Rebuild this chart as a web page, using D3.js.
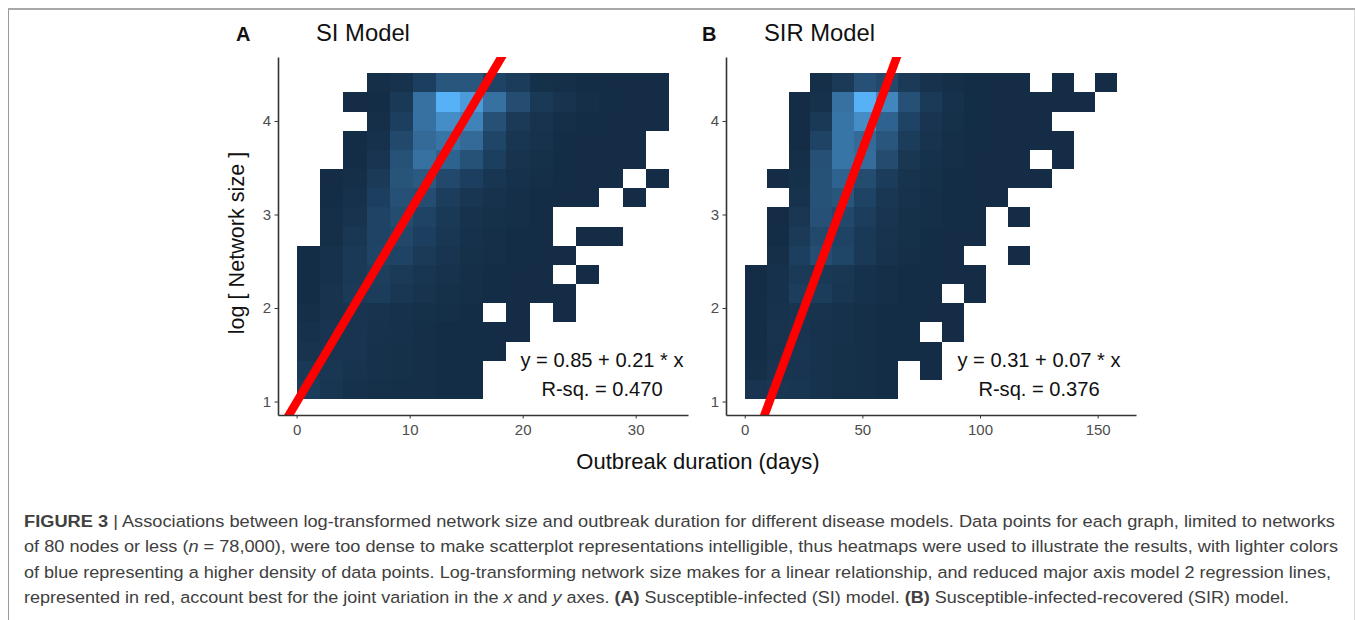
<!DOCTYPE html>
<html>
<head>
<meta charset="utf-8">
<script src="https://cdn.jsdelivr.net/npm/d3@7"></script>
<style>
    html, body { margin: 0; padding: 0; background: #fff; }
    svg { display: block; font-family: "Liberation Sans", Arial, sans-serif; }
</style>
</head>
<body>
<div id="d3-container"></div>
<script>
// heatmap density, 0-100. first row is the top row of the panel, _ = empty bin
var _ = null;
var siDensity = [
    [_, _, _, 3, 6, 17, 35, 35, 20, 14, 4, 3, 2, 1, 1, 1],
    [_, _, 1, 2, 12, 55, 100, 85, 55, 28, 12, 7, 3, 2, 1, 1],
    [_, _, _, 3, 17, 55, 75, 68, 30, 13, 7, 3, 2, 1, 1, 1],
    [_, _, 2, 5, 25, 50, 58, 50, 22, 9, 6, 2, 1, 1, 1, _],
    [_, _, 2, 8, 32, 55, 45, 32, 17, 7, 4, 2, 1, 1, 1, _],
    [_, 1, 3, 13, 33, 37, 25, 17, 9, 5, 3, 2, 1, 1, _, 1],
    [_, 2, 5, 17, 30, 28, 15, 9, 6, 3, 2, 1, 1, _, 1, _],
    [_, 3, 7, 20, 27, 20, 12, 6, 4, 3, 1, _, _, _, _, _],
    [_, 3, 10, 20, 23, 17, 10, 5, 3, 2, 1, _, 1, 1, _, _],
    [2, 5, 12, 21, 20, 13, 8, 4, 3, 2, 1, 1, _, _, _, _],
    [2, 5, 12, 16, 13, 9, 6, 3, 2, 1, 1, _, 1, _, _, _],
    [2, 7, 13, 14, 10, 7, 4, 3, 2, 1, 1, 1, _, _, _, _],
    [3, 7, 8, 7, 5, 4, 3, 2, _, 1, _, 1, _, _, _, _],
    [5, 8, 8, 6, 5, 3, 2, 2, 1, 1, _, _, _, _, _, _],
    [7, 8, 8, 5, 4, 3, 2, 2, 1, _, _, _, _, _, _, _],
    [12, 10, 7, 5, 4, 3, 2, 2, _, _, _, _, _, _, _, _],
    [14, 9, 5, 4, 3, 3, 2, 2, _, _, _, _, _, _, _, _]
];
var sirDensity = [
    [_, _, _, 3, 13, 30, 25, 13, 6, 3, 2, 1, 1, _, 1, _, 1],
    [_, _, 1, 5, 55, 100, 70, 30, 13, 5, 2, 1, 1, 1, 1, 1, _],
    [_, _, 1, 12, 58, 75, 45, 20, 8, 4, 2, 1, 1, 1, _, _, _],
    [_, _, 1, 20, 58, 50, 35, 14, 7, 3, 2, 1, 1, 1, 1, _, _],
    [_, _, 3, 30, 58, 52, 27, 10, 5, 3, 1, 1, 1, _, 1, _, _],
    [_, 1, 4, 32, 45, 27, 14, 7, 4, 2, 1, 1, 1, 1, _, _, _],
    [_, _, 6, 32, 35, 20, 10, 6, 3, 2, 1, 1, _, _, _, _, _],
    [_, 1, 10, 30, 25, 15, 8, 4, 3, 2, 1, _, 1, _, _, _, _],
    [_, 2, 13, 25, 20, 12, 7, 4, 2, 1, 1, _, _, _, _, _, _],
    [_, 3, 17, 28, 22, 12, 6, 3, 2, 1, _, _, 1, _, _, _, _],
    [1, 5, 13, 12, 10, 5, 3, 2, 2, 1, 1, _, _, _, _, _, _],
    [1, 5, 15, 14, 9, 5, 3, 2, 1, _, 1, _, _, _, _, _, _],
    [2, 6, 8, 7, 5, 3, 2, 2, 1, 1, _, _, _, _, _, _, _],
    [2, 7, 8, 6, 5, 3, 2, 2, _, 1, _, _, _, _, _, _, _],
    [2, 6, 9, 6, 4, 3, 2, 2, 1, _, _, _, _, _, _, _, _],
    [3, 8, 8, 6, 4, 3, 2, _, 1, _, _, _, _, _, _, _, _],
    [8, 10, 9, 6, 4, 3, 2, _, _, _, _, _, _, _, _, _, _]
];

var yTicks = [1, 2, 3, 4];
var siXTicks = [0, 10, 20, 30];
var sirXTicks = [0, 50, 100, 150];
var siFit = [0.994, 0.2035];
var sirFit = [0.283, 0.0681];
var siLabels = ['y = 0.85 + 0.21 * x', 'R-sq. = 0.470'];
var sirLabels = ['y = 0.31 + 0.07 * x', 'R-sq. = 0.376'];

var captionLines = [
    [['FIGURE 3', 'b'], [' | Associations between log-transformed network size and outbreak duration for different disease models. Data points for each graph, limited to networks', '']],
    [['of 80 nodes or less (', ''], ['n', 'i'], [' = 78,000), were too dense to make scatterplot representations intelligible, thus heatmaps were used to illustrate the results, with lighter colors', '']],
    [['of blue representing a higher density of data points. Log-transforming network size makes for a linear relationship, and reduced major axis model 2 regression lines,', '']],
    [['represented in red, account best for the joint variation in the ', ''], ['x', 'i'], [' and ', ''], ['y', 'i'], [' axes. ', ''], ['(A)', 'b'], [' Susceptible-infected (SI) model. ', ''], ['(B)', 'b'], [' Susceptible-infected-recovered (SIR) model.', '']]
];
var captionWidths = [1311, 1314, 1307, 1265];

var svg = d3.select('#d3-container')
    .append('svg')
    .attr('width', 1355)
    .attr('height', 620);

// figure frame: heavier on top, faint on the right
svg.append('path')
    .attr('d', 'M1354.5,9V620')
    .style('stroke', '#dcdcdc')
    .style('stroke-width', 1);
svg.append('path')
    .attr('d', 'M8.5,9V620')
    .style('stroke', '#9a9a9a')
    .style('stroke-width', 1);
svg.append('path')
    .attr('d', 'M8,9H1355')
    .style('stroke', '#a8a8a8')
    .style('stroke-width', 2);

var color = d3.scaleLinear()
    .domain([0, 100])
    .range(['#132B43', '#56B1F7'])
    .interpolate(d3.interpolateLab);

function drawPanel(opts) {
    var x = d3.scaleLinear().domain(opts.xDomain).range([opts.left, opts.left + 410]);
    var y = d3.scaleLinear().domain([0.856, 4.684]).range([415, 57]);
    var rowHeight = 0.2049, rowStart = 1.027;
    var n = opts.density.length;

    var cells = [];
    opts.density.forEach(function(row, r) {
        row.forEach(function(v, c) {
            if (v !== null) cells.push({ r: n - 1 - r, c: c, v: v });
        });
    });

    svg.append('g')
        .selectAll('rect')
        .data(cells)
        .enter()
        .append('rect')
        .attr('x', d => x(d.c * opts.binWidth))
        .attr('width', d => x((d.c + 1) * opts.binWidth) - x(d.c * opts.binWidth))
        .attr('y', d => y(rowStart + (d.r + 1) * rowHeight))
        .attr('height', d => y(rowStart + d.r * rowHeight) - y(rowStart + (d.r + 1) * rowHeight))
        .attr('shape-rendering', 'crispEdges')
        .style('fill', d => color(d.v));

    // fit line, cut at the panel edges
    var clipId = 'clip-' + opts.id;
    svg.append('clipPath').attr('id', clipId)
        .append('rect')
        .attr('x', opts.left).attr('y', 57)
        .attr('width', 410).attr('height', 358);

    var line = d3.line().x(d => x(d)).y(d => y(opts.fit[0] + opts.fit[1] * d));
    svg.append('path')
        .attr('clip-path', 'url(#' + clipId + ')')
        .attr('d', line(opts.xDomain))
        .style('fill', 'none')
        .style('stroke', '#ff0000')
        .style('stroke-width', 8.5);

    var xAxis = svg.append('g')
        .attr('transform', 'translate(0,415)')
        .call(d3.axisBottom(x).tickValues(opts.xTicks).tickSize(3.5).tickPadding(5.5).tickSizeOuter(0));
    var yAxis = svg.append('g')
        .attr('transform', 'translate(' + opts.left + ',0)')
        .call(d3.axisLeft(y).tickValues(yTicks).tickFormat(d3.format('d')).tickSize(3.5).tickPadding(3.5).tickSizeOuter(0));

    [xAxis, yAxis].forEach(function(a) {
        a.selectAll('text')
            .style('font-family', '"Liberation Sans", Arial, sans-serif')
            .style('font-size', '15px')
            .style('fill', '#4d4d4d');
        a.selectAll('.tick line').style('stroke', '#333').style('stroke-width', 1);
        a.select('.domain').style('stroke', '#333').style('stroke-width', 1.6);
    });

    svg.append('text')
        .attr('x', opts.letterX).attr('y', 41)
        .text(opts.letter)
        .style('font-size', '20px')
        .style('font-weight', 'bold')
        .style('fill', '#111');

    svg.append('text')
        .attr('x', opts.titleX).attr('y', 41)
        .text(opts.title)
        .style('font-size', '23.8px')
        .style('fill', '#111');

    svg.append('g')
        .selectAll('text')
        .data(opts.labels)
        .enter()
        .append('text')
        .attr('x', opts.labelX)
        .attr('y', (d, i) => 367 + i * 29)
        .text(d => d)
        .style('font-size', '20.1px')
        .style('text-anchor', 'middle')
        .style('fill', '#111');
}

drawPanel({
    id: 'si', letter: 'A', title: 'SI Model', letterX: 236, titleX: 316, labelX: 602,
    left: 278, xDomain: [-1.65, 34.63], xTicks: siXTicks, binWidth: 2.061,
    density: siDensity, fit: siFit, labels: siLabels
});
drawPanel({
    id: 'sir', letter: 'B', title: 'SIR Model', letterX: 702, titleX: 764, labelX: 1039,
    left: 726, xDomain: [-7.95, 166.3], xTicks: sirXTicks, binWidth: 9.316,
    density: sirDensity, fit: sirFit, labels: sirLabels
});

svg.append('text')
    .attr('transform', 'translate(244,243) rotate(-90)')
    .text('log [ Network size ]')
    .style('font-size', '21.6px')
    .style('text-anchor', 'middle')
    .style('fill', '#111');

svg.append('text')
    .attr('x', 698).attr('y', 469)
    .text('Outbreak duration (days)')
    .style('font-size', '22px')
    .style('text-anchor', 'middle')
    .style('fill', '#111');

// caption
captionLines.forEach(function(parts, i) {
    var t = svg.append('text')
        .attr('x', 24)
        .attr('y', 527 + i * 25.3)
        .attr('textLength', captionWidths[i])
        .attr('lengthAdjust', 'spacingAndGlyphs')
        .style('font-size', '17.4px')
        .style('fill', '#404040');
    parts.forEach(function(p) {
        t.append('tspan')
            .text(p[0])
            .style('font-weight', p[1] === 'b' ? 'bold' : 'normal')
            .style('font-style', p[1] === 'i' ? 'italic' : 'normal');
    });
});
</script>
</body>
</html>
